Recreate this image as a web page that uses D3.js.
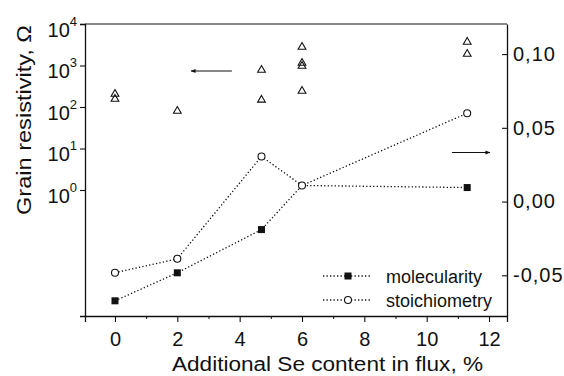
<!DOCTYPE html>
<html><head><meta charset="utf-8">
<script src="https://cdn.jsdelivr.net/npm/d3@7"></script>
<style>
html,body{margin:0;padding:0;background:#fff;}
svg{display:block;font-family:"Liberation Sans",Arial,Helvetica,sans-serif;}
</style></head>
<body>
<svg id="chart" width="564" height="376"></svg>
<script>
// ---- data ----
const xValues = [0, 2, 4.7, 6, 11.3];
const molecularity = [-0.0673, -0.0483, -0.019, 0.0109, 0.0095];
const stoichiometry = [-0.0483, -0.0388, 0.0306, 0.0109, 0.0599];
const resistivityX = [0, 0, 2, 4.7, 4.7, 6, 6, 6, 6, 11.3, 11.3];
const resistivity = [205, 156, 80, 780, 148, 2790, 1150, 973, 243, 3680, 1890];
const xTicks = [0, 2, 4, 6, 8, 10, 12];
const xMinorTicks = [-1, 1, 3, 5, 7, 9, 11];
const leftTicks = [1, 10, 100, 1000, 10000];
const leftExponents = ["0", "1", "2", "3", "4"];
const rightTicks = [-0.05, 0, 0.05, 0.10];
const rightTickLabels = ["-0,05", "0,00", "0,05", "0,10"];
const legendLabels = ["molecularity", "stoichiometry"];
const xTitle = "Additional Se content in flux, %";
const yTitle = "Grain resistivity, \u03A9";
// annotation arrows: [x from, x to, value]
const leftArrow = [3.75, 2.44, 736];
const rightArrow = [10.81, 12.03, 0.0333];

// ---- layout ----
const L = 85, R = 507, T = 24, B = 316;
const svg = d3.select("#chart");
const ink = "#111";

const x = d3.scaleLinear().domain([-0.962, 12.577]).range([L, R]);
const yL = d3.scaleLog().domain([Math.pow(10, -3.036), 1e4]).range([B, T]);
const yR = d3.scaleLinear().domain([-0.0776, 0.1204]).range([B, T]);

svg.append("defs").append("marker")
  .attr("id", "ah").attr("viewBox", "0 0 10 10").attr("refX", 9).attr("refY", 5)
  .attr("markerWidth", 7).attr("markerHeight", 5).attr("markerUnits", "userSpaceOnUse")
  .attr("orient", "auto")
  .append("path").attr("d", "M0,1 L10,5 L0,9 Z").attr("fill", ink);

// frame
svg.append("line").attr("x1", L).attr("x2", R).attr("y1", T).attr("y2", T)
  .attr("stroke", ink).attr("stroke-width", 1.2);

// bottom axis
const gx = svg.append("g").attr("transform", `translate(0,${B})`)
  .call(d3.axisBottom(x).tickValues(xTicks).tickSize(6).tickPadding(10).tickFormat(d3.format("d")));
svg.append("g").attr("transform", `translate(0,${B})`)
  .call(d3.axisBottom(x).tickValues(xMinorTicks.filter(v => v > -0.9)).tickSize(3).tickFormat(""))
  .call(g => g.select(".domain").remove());

// left axis
const gl = svg.append("g").attr("transform", `translate(${L},0)`)
  .call(d3.axisLeft(yL).tickValues(leftTicks).tickSize(5).tickFormat(""));
gl.selectAll(".tick").each(function(d, i) {
  const t = d3.select(this).append("text")
    .attr("x", -8).attr("y", 12).attr("text-anchor", "end")
    .attr("fill", ink).style("font-size", "20px");
  t.append("tspan").text("10");
  t.append("tspan").attr("dy", -11).style("font-size", "13px").text(leftExponents[i]);
});

// right axis
const gr = svg.append("g").attr("transform", `translate(${R},0)`)
  .call(d3.axisRight(yR).tickValues(rightTicks).tickSizeInner(-5).tickSizeOuter(0).tickPadding(11)
    .tickFormat((d, i) => rightTickLabels[i]));
gr.selectAll(".tick text").attr("x", 6).style("letter-spacing", "1px");

[gx, gl, gr].forEach(g => {
  g.selectAll(".domain").attr("stroke", ink).attr("stroke-width", 1.3);
  g.selectAll(".tick line").attr("stroke", ink).attr("stroke-width", 1.1);
  g.selectAll(".tick text").attr("fill", ink).style("font-size", "20px")
    .style("font-family", "'Liberation Sans',Arial,sans-serif");
});
svg.selectAll("g .tick line").attr("stroke", ink);

// titles
svg.append("text").attr("x", 327.5).attr("y", 371).attr("text-anchor", "middle")
  .attr("fill", ink).style("font-size", "20px")
  .attr("textLength", 311).attr("lengthAdjust", "spacingAndGlyphs").text(xTitle);
svg.append("text").attr("transform", "translate(31,120) rotate(-90)").attr("text-anchor", "middle")
  .attr("fill", ink).style("font-size", "20px")
  .attr("textLength", 190).attr("lengthAdjust", "spacingAndGlyphs").text(yTitle);

// dotted series lines
const dots = "1.3,2.2";
const lineGen = vals => d3.line().x((d, i) => x(xValues[i])).y(d => yR(d))(vals);
svg.append("path").attr("d", lineGen(molecularity)).attr("fill", "none")
  .attr("stroke", ink).attr("stroke-width", 1.3).attr("stroke-dasharray", dots);
svg.append("path").attr("d", lineGen(stoichiometry)).attr("fill", "none")
  .attr("stroke", ink).attr("stroke-width", 1.3).attr("stroke-dasharray", dots);

// molecularity markers (hidden where a stoichiometry circle sits on top)
svg.append("g").selectAll("rect")
  .data(molecularity.map((v, i) => ({x: xValues[i], v, s: stoichiometry[i]}))
    .filter(d => Math.abs(yR(d.v) - yR(d.s)) > 2))
  .join("rect")
  .attr("x", d => x(d.x) - 3.5).attr("y", d => yR(d.v) - 3.5)
  .attr("width", 7).attr("height", 7).attr("fill", ink);

// stoichiometry markers
svg.append("g").selectAll("circle")
  .data(stoichiometry.map((v, i) => ({x: xValues[i], v})))
  .join("circle")
  .attr("cx", d => x(d.x)).attr("cy", d => yR(d.v)).attr("r", 3.5)
  .attr("fill", "#fff").attr("stroke", ink).attr("stroke-width", 1.1);

// resistivity triangles
const tri = d3.symbol().type(d3.symbolTriangle).size(26);
svg.append("g").selectAll("path")
  .data(resistivity.map((v, i) => ({x: resistivityX[i], v})))
  .join("path")
  .attr("d", tri)
  .attr("transform", d => `translate(${x(d.x)},${yL(d.v)})`)
  .attr("fill", "none").attr("stroke", ink).attr("stroke-width", 1.1);

// arrows
svg.append("line").attr("x1", x(leftArrow[0])).attr("x2", x(leftArrow[1]))
  .attr("y1", yL(leftArrow[2])).attr("y2", yL(leftArrow[2]))
  .attr("stroke", ink).attr("stroke-width", 1.1).attr("marker-end", "url(#ah)");
svg.append("line").attr("x1", x(rightArrow[0])).attr("x2", x(rightArrow[1]))
  .attr("y1", yR(rightArrow[2])).attr("y2", yR(rightArrow[2]))
  .attr("stroke", ink).attr("stroke-width", 1.1).attr("marker-end", "url(#ah)");

// legend
const lg = svg.append("g");
legendLabels.forEach((lab, i) => {
  const yy = 276 + i * 24;
  lg.append("line").attr("x1", 323).attr("x2", 372).attr("y1", yy).attr("y2", yy)
    .attr("stroke", ink).attr("stroke-width", 1.3).attr("stroke-dasharray", dots);
  if (i === 0) {
    lg.append("rect").attr("x", 348 - 3.5).attr("y", yy - 3.5).attr("width", 7).attr("height", 7).attr("fill", ink);
  } else {
    lg.append("circle").attr("cx", 348).attr("cy", yy).attr("r", 3.5)
      .attr("fill", "#fff").attr("stroke", ink).attr("stroke-width", 1.1);
  }
  lg.append("text").attr("x", 386).attr("y", yy + 7).attr("fill", ink)
    .style("font-size", "18px").text(lab);
});
</script>
</body></html>
